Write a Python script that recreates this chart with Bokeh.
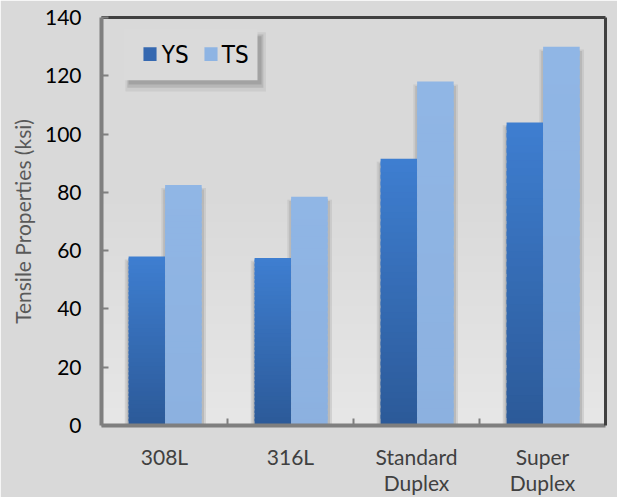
from bokeh.plotting import figure
from bokeh.models import Range1d, FixedTicker, LinearAxis, ColumnDataSource
from bokeh.core.properties import value
from bokeh.embed import file_html
from bokeh.resources import INLINE

# ---- data ----
categories = ["308L", "316L", "Standard\nDuplex", "Super\nDuplex"]
ys_values = [58.0, 57.5, 91.5, 104.0]
ts_values = [82.5, 78.5, 118.0, 130.0]
series_names = ["YS", "TS"]
y_ticks = [0, 20, 40, 60, 80, 100, 120, 140]

# ---- style helpers ----
def hex_to_rgb(h):
    h = h.lstrip("#")
    return tuple(int(h[i:i + 2], 16) for i in (0, 2, 4))

def lerp(c1, c2, t):
    a, b = hex_to_rgb(c1), hex_to_rgb(c2)
    return "#%02x%02x%02x" % tuple(int(round(a[k] + (b[k] - a[k]) * t)) for k in range(3))

N_SEG = 40
YS_BOTTOM, YS_TOP = "#2c5a99", "#3e7ed0"
TS_BOTTOM, TS_TOP = "#8cb1e0", "#90b6e5"
YS_LEGEND, TS_LEGEND = "#3568b0", "#8eb4e3"

p = figure(width=617, height=497, output_backend="svg", toolbar_location=None,
           x_range=Range1d(0, 4), y_range=Range1d(0, 140),
           min_border_left=101, min_border_right=12, min_border_top=17, min_border_bottom=69)
p.background_fill_color = "#d9d9d9"
p.border_fill_color = "#d9d9d9"
p.outline_line_color = None
p.grid.visible = False

# y axis (left)
yax = p.left[0]
yax.ticker = FixedTicker(ticks=y_ticks)
yax.axis_line_color = "#7f7f7f"
yax.axis_line_width = 4
yax.major_tick_in = 7
yax.major_tick_out = 0
yax.major_tick_line_color = "#7f7f7f"
yax.major_tick_line_width = 2
yax.minor_tick_line_color = None
yax.major_label_text_font = "Lato"
yax.major_label_text_font_size = "21px"
yax.major_label_text_color = "#000000"
yax.major_label_standoff = 20
yax.axis_label = "Tensile Properties (ksi)"
yax.axis_label_text_font = "Lato"
yax.axis_label_text_font_size = "21px"
yax.axis_label_text_font_style = "normal"
yax.axis_label_text_color = "#595959"
yax.axis_label_standoff = 7

# x axis (below)
xax = p.below[0]
centers = [i + 0.5 for i in range(len(categories))]
xax.ticker = FixedTicker(ticks=centers, minor_ticks=[1, 2, 3])
xax.major_label_overrides = {c: lab for c, lab in zip(centers, categories)}
xax.axis_line_color = "#7f7f7f"
xax.axis_line_width = 4
xax.major_tick_line_color = None
xax.minor_tick_in = 7
xax.minor_tick_out = 0
xax.minor_tick_line_color = "#7f7f7f"
xax.minor_tick_line_width = 2
xax.major_label_text_font = "Lato"
xax.major_label_text_font_size = "21px"
xax.major_label_text_color = "#404040"
xax.major_label_text_line_height = 1.05
xax.major_label_standoff = 12

# ---- top / right frame borders (label-less axes) ----
for side in ("above", "right"):
    ax = LinearAxis(ticker=FixedTicker(ticks=[]), axis_line_color="#404040", axis_line_width=3,
                    major_tick_line_color=None, minor_tick_line_color=None,
                    major_label_text_font_size="0px", major_label_standoff=0)
    p.add_layout(ax, side)

# plot-area background gradient (lighter near the bottom)
bg = dict(left=[], right=[], bottom=[], top=[], color=[])
NB = 24
for i in range(NB):
    bg["left"].append(0); bg["right"].append(4)
    bg["bottom"].append(140 * i / NB); bg["top"].append(min(140, 140 * (i + 1.6) / NB))
    t = min(1.0, i / (NB * 0.55))
    bg["color"].append(lerp("#e6e6e6", "#d9d9d9", t))
p.quad(left="left", right="right", bottom="bottom", top="top", color="color",
       source=ColumnDataSource(bg), line_color=None)

# bar geometry (in category units)
ys_left = [i + 0.215 for i in range(len(categories))]
ys_right = [i + 0.505 for i in range(len(categories))]
ts_left = [i + 0.505 for i in range(len(categories))]
ts_right = [i + 0.795 for i in range(len(categories))]

# shadows
for dl, dr, dt, col, alpha in [(0.03, 0.034, 1.0, "#bcbcbc", 0.5), (0.015, 0.019, 1.5, "#b0b0b0", 0.7)]:
    sh = dict(left=[], right=[], bottom=[], top=[])
    for L, R, v in zip(ys_left + ts_left, ys_right + ts_right, ys_values + ts_values):
        sh["left"].append(L - dl); sh["right"].append(R + dr)
        sh["bottom"].append(0); sh["top"].append(v - dt)
    p.quad(left="left", right="right", bottom="bottom", top="top", source=ColumnDataSource(sh),
           fill_color=col, fill_alpha=alpha, line_color=None)

def gradient_bars(lefts, rights, values, c_bot, c_top):
    d = dict(left=[], right=[], bottom=[], top=[], color=[])
    for L, R, v in zip(lefts, rights, values):
        for k in range(N_SEG):
            d["left"].append(L); d["right"].append(R)
            d["bottom"].append(v * k / N_SEG); d["top"].append(min(v, v * (k + 1.6) / N_SEG))
            d["color"].append(lerp(c_bot, c_top, k / (N_SEG - 1)))
    return ColumnDataSource(d)

p.quad(left="left", right="right", bottom="bottom", top="top", color="color",
       source=gradient_bars(ys_left, ys_right, ys_values, YS_BOTTOM, YS_TOP), line_color=None)
p.quad(left="left", right="right", bottom="bottom", top="top", color="color",
       source=gradient_bars(ts_left, ts_right, ts_values, TS_BOTTOM, TS_TOP), line_color=None)

# ---- legend (drawn by hand: box with soft shadow, swatches, labels) ----
p.quad(left=[0.19], right=[1.305], bottom=[114.6], top=[134.9], fill_color="#b0b0b0",
       fill_alpha=0.3, line_color=None)
p.quad(left=[0.205], right=[1.285], bottom=[115.9], top=[134.2], fill_color="#999999",
       fill_alpha=0.4, line_color=None)
p.quad(left=[0.215], right=[1.27], bottom=[117.0], top=[133.6], fill_color="#8a8a8a",
       fill_alpha=0.45, line_color=None)
p.quad(left=[0.1746], right=[1.238], bottom=[118.5], top=[136.2], fill_color="#dadada",
       line_color=None)
p.quad(left=[0.333, 0.817], right=[0.437, 0.921], bottom=[125.1, 125.1], top=[129.8, 129.8],
       fill_color=[YS_LEGEND, TS_LEGEND], line_color=None)
p.text(x=[0.478, 0.955], y=[127.3, 127.3], text=series_names, text_baseline="middle",
       text_align="left", text_font=value("Liberation Sans Narrow, DejaVu Sans Condensed"),
       text_font_size="24px", text_color="#000000")

open("out.html", "w").write(file_html(p, INLINE))
